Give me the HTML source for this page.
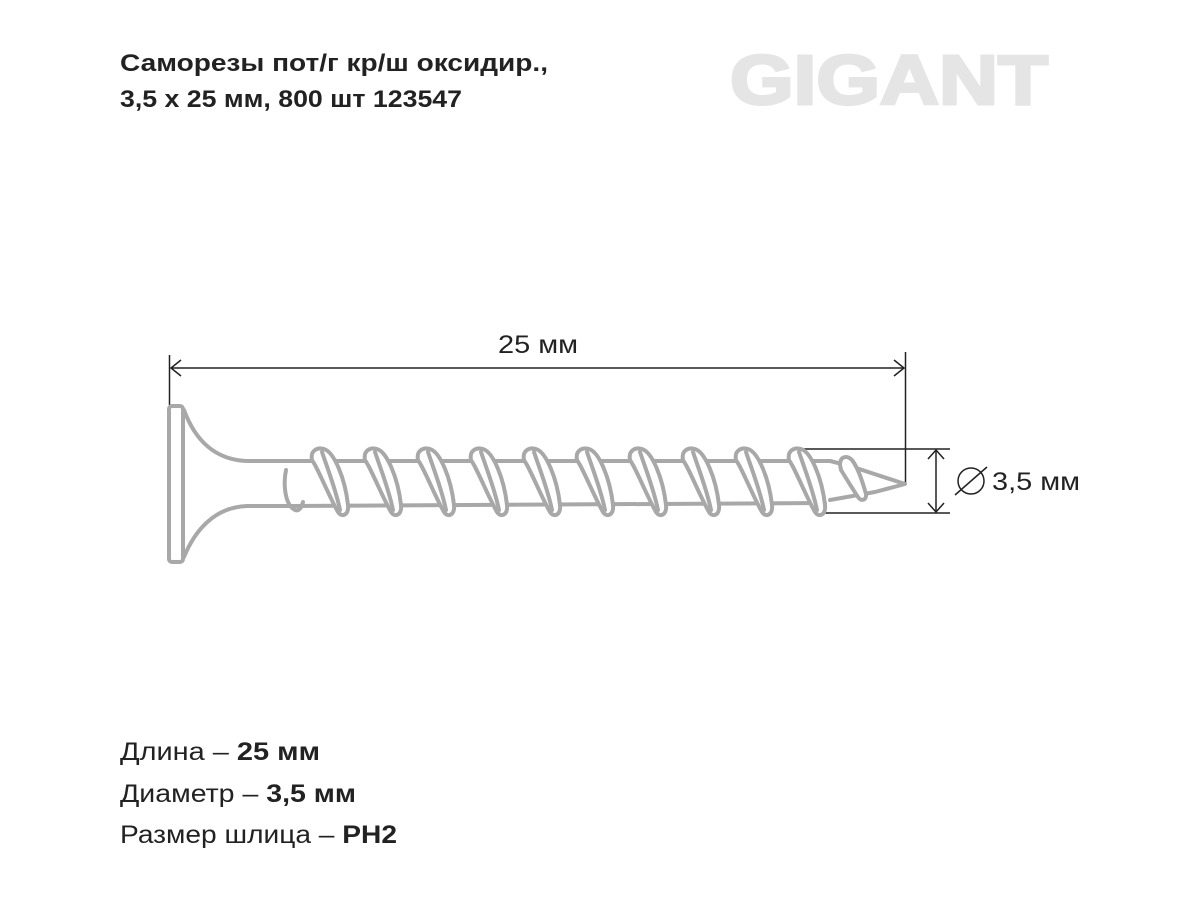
<!DOCTYPE html>
<html><head><meta charset="utf-8"><style>
body{margin:0;background:#fff;}
svg{display:block}
</style></head><body>
<svg width="1200" height="900" viewBox="0 0 1200 900" xmlns="http://www.w3.org/2000/svg">
<g font-family="Liberation Sans, sans-serif" fill="#222">
<text x="120" y="71" font-size="24" font-weight="bold" textLength="428" lengthAdjust="spacingAndGlyphs">Саморезы пот/г кр/ш оксидир.,</text>
<text x="120" y="107" font-size="24" font-weight="bold" textLength="342" lengthAdjust="spacingAndGlyphs">3,5 x 25 мм, 800 шт 123547</text>
<text x="730" y="104" font-size="70" font-weight="bold" fill="#e5e5e5" stroke="#e5e5e5" stroke-width="3" textLength="318" lengthAdjust="spacingAndGlyphs">GIGANT</text>
<text x="120" y="760" font-size="25" textLength="200" lengthAdjust="spacingAndGlyphs">Длина – <tspan font-weight="bold">25 мм</tspan></text>
<text x="120" y="802" font-size="25" textLength="236" lengthAdjust="spacingAndGlyphs">Диаметр – <tspan font-weight="bold">3,5 мм</tspan></text>
<text x="120" y="843" font-size="25" textLength="277" lengthAdjust="spacingAndGlyphs">Размер шлица – <tspan font-weight="bold">PH2</tspan></text>
<text x="498" y="353" font-size="25" textLength="80" lengthAdjust="spacingAndGlyphs">25 мм</text>
<text x="992" y="490" font-size="25" textLength="88" lengthAdjust="spacingAndGlyphs">3,5 мм</text>
</g>
<g stroke="#222" stroke-width="1.5" fill="none">
<line x1="169.5" y1="355" x2="169.5" y2="405"/>
<line x1="905.5" y1="352" x2="905.5" y2="484"/>
<line x1="171" y1="368" x2="904" y2="368"/>
<polyline points="181,360 171,368 181,376"/>
<polyline points="894,360 904,368 894,376"/>
<line x1="795" y1="449" x2="950" y2="449"/>
<line x1="825" y1="513" x2="950" y2="513"/>
<line x1="936" y1="450" x2="936" y2="512"/>
<polyline points="928,459 936,450 944,459"/>
<polyline points="928,503 936,512 944,503"/>
<circle cx="971" cy="481" r="13"/>
<line x1="955" y1="495" x2="987" y2="467"/>
</g>
<g stroke="#a8a8a8" stroke-width="4" fill="none" stroke-linejoin="round" stroke-linecap="round">
<rect x="169" y="406" width="14" height="156" rx="3" fill="#fff"/>
<path d="M184,410 C195,440 215,460 247,461 L830,461"/>
<path d="M184,557 C195,530 215,507 247,506 L290,506"/>
<path d="M290,506 L825,503"/>
<path d="M830,461 L850,466 L905,484 L875,492 L830,500"/>
<path d="M286,470 C283,485 285,505 295,510 C300,512 302,505 303,502"/>
<g fill="#fff">
<g id="t">
<path d="M312,460 C310,450 318,447 324,449 C334,452 345,478 348,505 C349,515 342,518 338,512 C330,498 322,478 315,465 Z"/>
<path d="M322,452 C328,470 336,490 340,510"/>
</g>
<use href="#t" x="53"/>
<use href="#t" x="106"/>
<use href="#t" x="159"/>
<use href="#t" x="212"/>
<use href="#t" x="265"/>
<use href="#t" x="318"/>
<use href="#t" x="371"/>
<use href="#t" x="424"/>
<use href="#t" x="477"/>
<path d="M840,465 C840,456 847,455 852,460 C858,468 862,480 866,494 C867,500 861,502 858,497 C852,488 846,478 841,470 Z"/>
</g>
</g>
</svg>
</body></html>
